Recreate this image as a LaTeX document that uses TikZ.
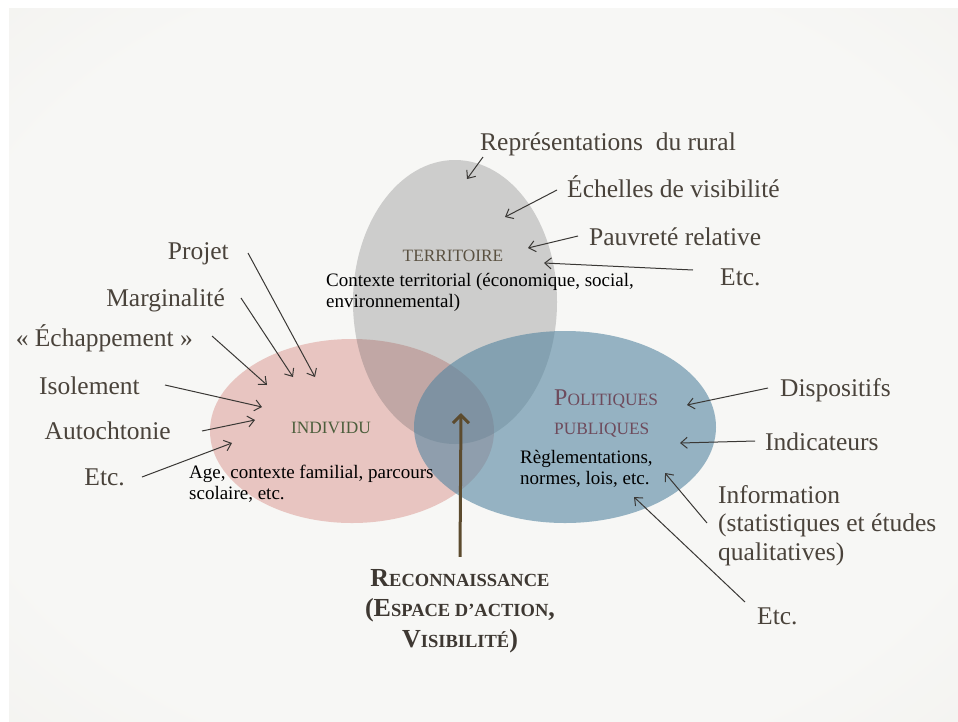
\documentclass[tikz,border=0pt]{standalone}
\usepackage{fontspec}
\setmainfont{Liberation Serif}
\usetikzlibrary{shapes.geometric,arrows.meta}

\definecolor{paperin}{HTML}{F7F7F5}
\definecolor{paperout}{HTML}{E6E4DE}
\definecolor{pinkc}{HTML}{E3B3AD}
\definecolor{grayc}{HTML}{505052}
\definecolor{bluec}{HTML}{5485A0}
\definecolor{labelc}{HTML}{4A433B}
\definecolor{arrowc}{HTML}{3A3835}
\definecolor{terrc}{HTML}{5A5141}
\definecolor{indivc}{HTML}{4C5E3C}
\definecolor{polc}{HTML}{6E4B5C}
\definecolor{recoc}{HTML}{3E3832}
\definecolor{bigarrc}{HTML}{5C4B2E}

% soft paper background
\pgfdeclareradialshading{paper}{\pgfpoint{0bp}{0bp}}{color(0bp)=(paperin); color(28bp)=(paperin); color(72bp)=(paperout)}

% fake small capitals
\newcommand{\titlesc}[1]{{\fontsize{24}{29}\selectfont #1}}
\newcommand{\recosc}[1]{{\fontsize{18.5}{30.5}\selectfont #1}}

\begin{document}
\begin{tikzpicture}[x=1pt,y=-1pt,>={Straight Barb[length=6.5pt,width=11pt]},
    lab/.style={font=\fontsize{25.5}{28.5}\selectfont, text=labelc, inner sep=0pt, align=left},
    inner/.style={font=\fontsize{19}{21.5}\selectfont, text=black, inner sep=0pt, align=left},
    title/.style={font=\fontsize{17.3}{29}\selectfont, inner sep=0pt, align=left},
    bubble/.style={ellipse, inner sep=0pt, outer sep=0pt},
    arr/.style={->, draw=arrowc, line width=1pt},
    bigarr/.style={-{Straight Barb[length=8pt,width=16pt]}, draw=bigarrc, line width=3pt}]
        \useasboundingbox (0,0) rectangle (958,721);

        % draw the paper
        \fill[white] (0,0) rectangle (958,721);
        \shade[shading=paper] (9,8) rectangle (958,721);

        % draw the three sets
        \node[bubble, fill=pinkc, fill opacity=0.72, minimum width=284, minimum height=184] (indiv) at (352,431) {};
        \node[bubble, fill=grayc, fill opacity=0.25, minimum width=204, minimum height=284] (terr) at (455,302) {};
        \node[bubble, fill=bluec, fill opacity=0.6, minimum width=302, minimum height=192] (pol) at (565,427) {};

        % names of the sets (base is the last line)
        \node[title, text=terrc, anchor=base] (terrname) at (453,261) {TERRITOIRE};
        \node[title, text=indivc, anchor=base] (indivname) at (331,433) {INDIVIDU};
        \node[title, text=polc, anchor=base west] (polname) at (554,434) {\titlesc{P}OLITIQUES\\PUBLIQUES};

        % what each set holds
        \node[inner, anchor=base west] (terrtext) at (326,307.5) {Contexte territorial (économique, social,\\environnemental)};
        \node[inner, anchor=base west] (indivtext) at (189,499.5) {Age, contexte familial, parcours\\scolaire, etc.};
        \node[inner, anchor=base west] (poltext) at (520,484.5) {Règlementations,\\normes, lois, etc.};

        % the labels round the sets
        \node[lab, anchor=base west] (rep) at (480,150) {Représentations~ du rural};
        \node[lab, anchor=base west] (ech) at (567,197) {Échelles de visibilité};
        \node[lab, anchor=base west] (pauv) at (589,245) {Pauvreté relative};
        \node[lab, anchor=base west] (etcT) at (720,285) {Etc.};
        \node[lab, anchor=base east] (projet) at (229,259) {Projet};
        \node[lab, anchor=base east] (marg) at (225,306) {Marginalité};
        \node[lab, anchor=base east] (echap) at (193,346) {«~Échappement~»};
        \node[lab, anchor=base east] (isol) at (140,394) {Isolement};
        \node[lab, anchor=base east] (auto) at (171,439) {Autochtonie};
        \node[lab, anchor=base east] (etcI) at (125,485) {Etc.};
        \node[lab, anchor=base west] (disp) at (780,396) {Dispositifs};
        \node[lab, anchor=base west] (indic) at (765,450) {Indicateurs};
        \node[lab, anchor=base west] (info) at (718,560) {Information\\(statistiques et études\\qualitatives)};
        \node[lab, anchor=base west] (etcP) at (757,624) {Etc.};

        % where the arrows point
        \foreach \n/\x/\y in {tRep/467/179, tEch/505/217, tPauv/528/248, tEtcT/544/263,
            tProjet/315/377, tMarg/293/377, tEchap/267/385, tIsol/262/407,
            tAuto/255/420, tEtcI/232/443, tDisp/687/405, tIndic/680/443,
            tInfo/665/473, tEtcP/634/497, tReco/461/413}
                \coordinate (\n) at (\x,\y);

        % draw the arrows from the labels
        \foreach \lab/\anc/\dx/\dy/\tip in {
            rep/base west/3/7/tRep,
            ech/base west/-10/-7/tEch,
            pauv/base west/-11/-9/tPauv,
            etcT/base west/-27/-15/tEtcT,
            projet/base east/19/-6/tProjet,
            marg/base east/16/-8/tMarg,
            echap/base east/19/-10/tEchap,
            isol/base east/25/-9/tIsol,
            auto/base east/31/-8/tAuto,
            etcI/base east/17/-8/tEtcI,
            disp/base west/-12/-8/tDisp,
            indic/base west/-10/-9/tIndic,
            info/base west/-11/-37/tInfo,
            etcP/base west/-12/-22/tEtcP}
                \draw[arr] ([shift={(\dx,\dy)}]\lab.\anc) -- (\tip);

        % recognition, where the three sets meet
        \node[anchor=base, align=center, inner sep=0pt, text=recoc, font=\bfseries\fontsize{26}{30.5}\selectfont] (reco) at (460,647)
            {R\recosc{ECONNAISSANCE}\\(E\recosc{SPACE D’ACTION},\\V\recosc{ISIBILITÉ})};
        \draw[bigarr] ([shift={(0,-12)}]reco.north) -- (tReco);
\end{tikzpicture}
\end{document}
